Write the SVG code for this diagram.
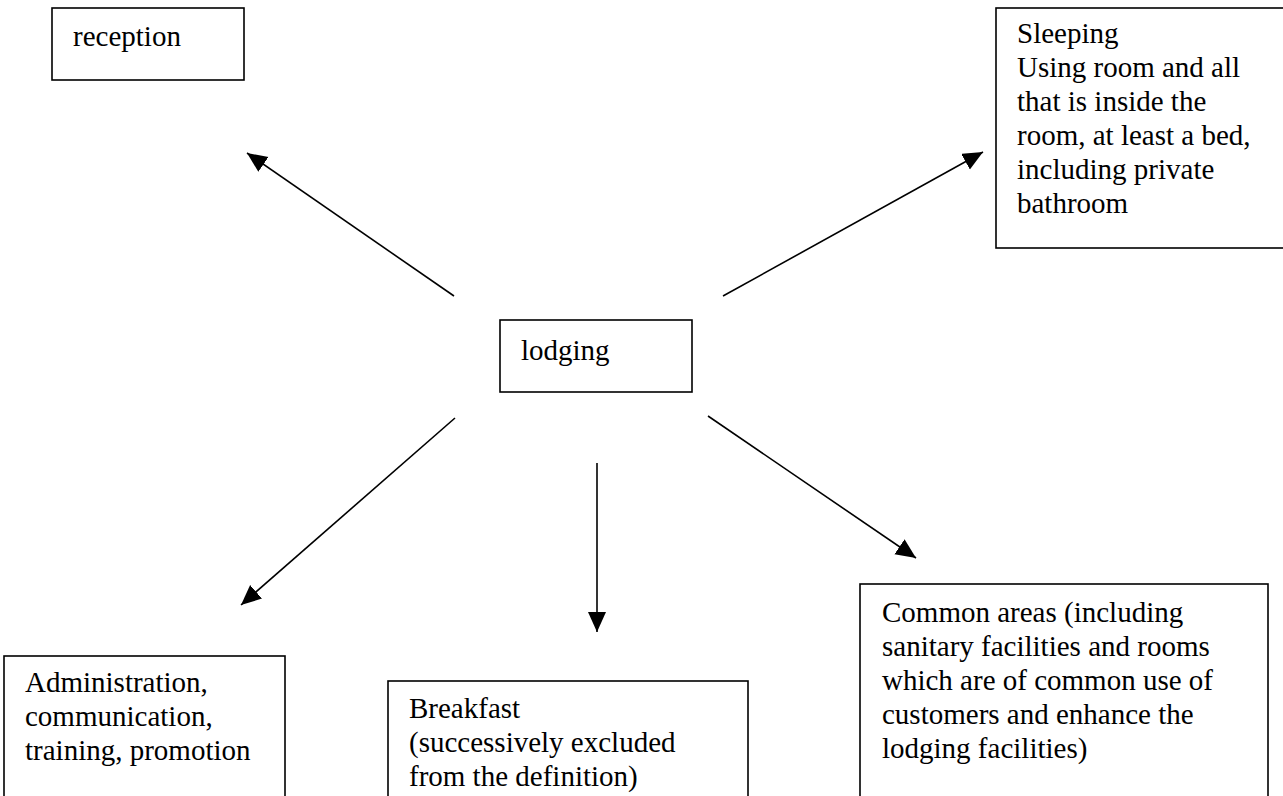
<svg xmlns="http://www.w3.org/2000/svg" width="1283" height="796" viewBox="0 0 1283 796">
<defs>
<style>
.box{fill:#fff;stroke:#000;stroke-width:1.6}
.t{font-family:"Liberation Serif","Times New Roman",serif;font-size:29px;fill:#000}
.c{stroke:#000;stroke-width:1.6;fill:none;marker-end:url(#ah)}
</style>
<marker id="ah" markerUnits="userSpaceOnUse" markerWidth="22" markerHeight="20" refX="20" refY="9" orient="auto">
<path d="M0,0 L20,9 L0,18 z" fill="#000"/>
</marker>
</defs>
<rect width="1283" height="796" fill="#fff"/>
<g id="connectors">
<line class="c" x1="454" y1="296" x2="247" y2="153"/>
<line class="c" x1="723" y1="296" x2="983" y2="152"/>
<line class="c" x1="455" y1="418" x2="241" y2="605"/>
<line class="c" x1="597" y1="463" x2="597" y2="632"/>
<line class="c" x1="708" y1="416" x2="916" y2="558"/>
</g>
<g id="reception">
<rect class="box" x="52" y="8" width="192" height="72"/>
<text class="t" x="73" y="46">reception</text>
</g>
<g id="sleeping">
<rect class="box" x="996" y="8" width="300" height="240"/>
<text class="t" x="1017" y="43">Sleeping<tspan x="1017" dy="34">Using room and all</tspan><tspan x="1017" dy="34">that is inside the</tspan><tspan x="1017" dy="34">room, at least a bed,</tspan><tspan x="1017" dy="34">including private</tspan><tspan x="1017" dy="34">bathroom</tspan></text>
</g>
<g id="lodging">
<rect class="box" x="500" y="320" width="192" height="72"/>
<text class="t" x="521" y="360">lodging</text>
</g>
<g id="administration">
<rect class="box" x="4" y="656" width="281" height="160"/>
<text class="t" x="25" y="692">Administration,<tspan x="25" dy="34">communication,</tspan><tspan x="25" dy="34">training, promotion</tspan></text>
</g>
<g id="breakfast">
<rect class="box" x="388" y="681" width="360" height="140"/>
<text class="t" x="409" y="718">Breakfast<tspan x="409" dy="34">(successively excluded</tspan><tspan x="409" dy="34">from the definition)</tspan></text>
</g>
<g id="common">
<rect class="box" x="860" y="584" width="408" height="240"/>
<text class="t" x="882" y="622">Common areas (including<tspan x="882" dy="34">sanitary facilities and rooms</tspan><tspan x="882" dy="34">which are of common use of</tspan><tspan x="882" dy="34">customers and enhance the</tspan><tspan x="882" dy="34">lodging facilities)</tspan></text>
</g>
</svg>
